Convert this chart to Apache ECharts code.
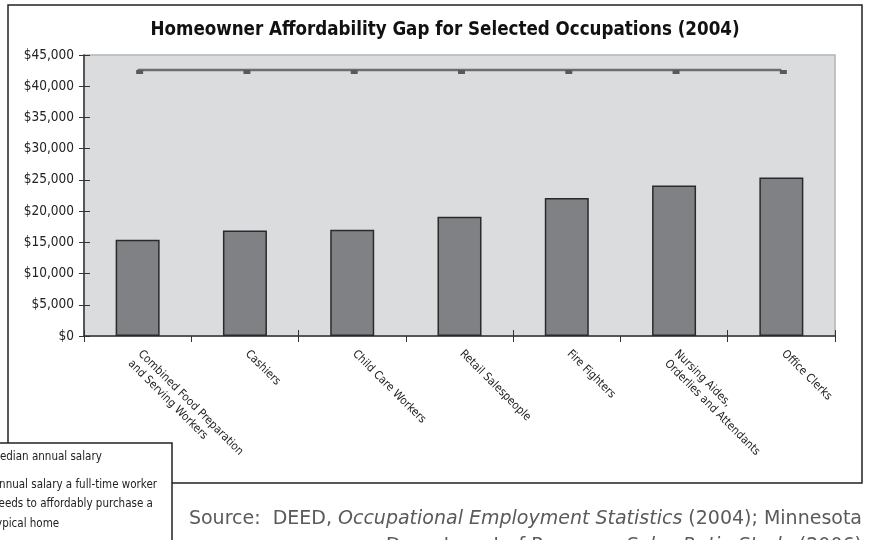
<!DOCTYPE html>
<html>
<head>
<meta charset="utf-8">
<script src="https://cdn.jsdelivr.net/npm/echarts@6/dist/echarts.min.js"></script>
<style>
html,body{margin:0;padding:0;background:#fff;}
#c{width:869px;height:540px;}
</style>
</head>
<body>
<div id="c"></div>
<script>
var categories = [
  'Combined Food Preparation\nand Serving Workers',
  'Cashiers',
  'Child Care Workers',
  'Retail Salespeople',
  'Fire Fighters',
  'Nursing Aides,\nOrderlies and Attendants',
  'Office Clerks'
];
var medianSalary = [15400, 16900, 17000, 19100, 22100, 24100, 25400];
var neededSalary = [42600, 42600, 42600, 42600, 42600, 42600, 42600];
var yMin = 0, yMax = 45000, yStep = 5000;
var titleText = 'Homeowner Affordability Gap for Selected Occupations (2004)';
var legendLabels = ['Median annual salary', 'Annual salary a full-time worker\nneeds to affordably purchase a\ntypical home'];

var FONT = '"DejaVu Sans Condensed", "Liberation Sans Narrow", sans-serif';
var chart = echarts.init(document.getElementById('c'), null, {renderer: 'canvas'});
chart.setOption({
  backgroundColor: '#ffffff',
  animation: false,
  title: {
    text: titleText,
    left: 440, top: 16, textAlign: 'center',
    textStyle: {fontFamily: FONT, fontWeight: 'bold', fontSize: 18.6, color: '#111'}
  },
  grid: {
    left: 84, right: 34, top: 55, bottom: 204,
    show: true, backgroundColor: '#dbdcde', borderColor: '#b4b4b4', borderWidth: 1.5
  },
  xAxis: [{
    type: 'category',
    data: categories,
    axisLine: {lineStyle: {color: '#333', width: 1.5}},
    axisTick: {show: true, length: 6, lineStyle: {color: '#333'}},
    axisLabel: {
      rotate: -45, interval: 0, margin: 4, color: '#222', padding: [0, 0, 0, 10],
      fontFamily: FONT, fontSize: 11.5, align: 'left', verticalAlign: 'top', lineHeight: 14
    }
  }, {
    type: 'category',
    data: categories,
    position: 'bottom',
    axisLine: {show: false},
    axisTick: {show: true, inside: true, length: 6, lineStyle: {color: '#333'}},
    axisLabel: {show: false}
  }],
  yAxis: [{
    type: 'value', min: yMin, max: yMax, interval: yStep,
    axisLine: {show: true, lineStyle: {color: '#333', width: 1.5}},
    axisTick: {show: true, length: 5, lineStyle: {color: '#333'}},
    splitLine: {show: false},
    axisLabel: {
      margin: 10, color: '#222', fontFamily: FONT, fontSize: 13.5,
      formatter: function (v) { return '$' + v.toLocaleString('en-US'); }
    }
  }, {
    type: 'value', min: yMin, max: yMax, interval: yStep, position: 'left',
    axisLine: {show: false},
    axisTick: {show: true, inside: true, length: 6, lineStyle: {color: '#333'}},
    splitLine: {show: false},
    axisLabel: {show: false}
  }],
  series: [
    {
      name: legendLabels[0],
      type: 'bar',
      data: medianSalary,
      barWidth: '41%',
      itemStyle: {color: '#808184', borderColor: '#2a2a2a', borderWidth: 1.5}
    },
    {
      name: legendLabels[1],
      type: 'line',
      data: neededSalary,
      symbol: 'rect', symbolSize: [7, 4], symbolOffset: [2, 2],
      lineStyle: {color: '#6d6e70', width: 2.5},
      itemStyle: {color: '#58595b'}
    }
  ],
  graphic: [
    {type: 'rect', shape: {x: 8, y: 5, width: 854, height: 478}, style: {fill: 'none', stroke: '#222', lineWidth: 1.5}, z: 50},
    {type: 'rect', shape: {x: -10, y: 443, width: 182, height: 120}, style: {fill: '#fff', stroke: '#222', lineWidth: 1.5}, z: 60},
    {type: 'text', x: -9, y: 457, style: {text: legendLabels[0], fontFamily: FONT, fontSize: 11.5, fill: '#222', verticalAlign: 'middle'}, z: 61},
    {type: 'text', x: -8, y: 475, style: {text: legendLabels[1], fontFamily: FONT, fontSize: 11.5, lineHeight: 19.5, fill: '#222', verticalAlign: 'top'}, z: 61},
    {type: 'text', x: 862, y: 519, style: {
      text: '{n|Source:  DEED, }{i|Occupational Employment Statistics}{n| (2004); Minnesota}',
      align: 'right', verticalAlign: 'middle',
      rich: {
        n: {fontFamily: '"DejaVu Sans", sans-serif', fontSize: 19, fill: '#5a5a5a'},
        i: {fontFamily: '"DejaVu Sans", sans-serif', fontSize: 19, fontStyle: 'italic', fill: '#5a5a5a'}
      }
    }, z: 61},
    {type: 'text', x: 862, y: 546, style: {
      text: '{n|Department of Revenue, }{i|Sales Ratio Study}{n| (2006)}',
      align: 'right', verticalAlign: 'middle',
      rich: {
        n: {fontFamily: '"DejaVu Sans", sans-serif', fontSize: 19, fill: '#5a5a5a'},
        i: {fontFamily: '"DejaVu Sans", sans-serif', fontSize: 19, fontStyle: 'italic', fill: '#5a5a5a'}
      }
    }, z: 61}
  ]
});
</script>
</body>
</html>
